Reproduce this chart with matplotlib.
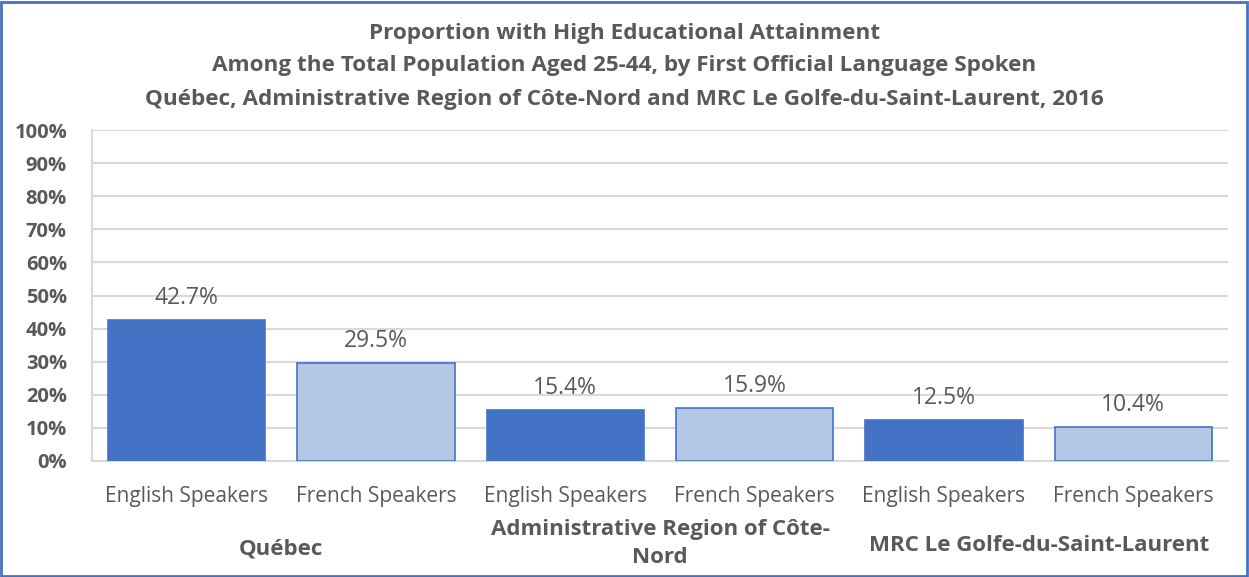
import matplotlib.pyplot as plt
from matplotlib.patches import Rectangle

# === 데이터 ===
regions = ["Québec", "Administrative Region of Côte-\nNord", "MRC Le Golfe-du-Saint-Laurent"]
languages = ["English Speakers", "French Speakers"]
values = [42.7, 29.5, 15.4, 15.9, 12.5, 10.4]
y_ticks = [0, 10, 20, 30, 40, 50, 60, 70, 80, 90, 100]

DARK = "#4472C4"
LIGHT = "#B4C7E7"
GREY = "#595959"

plt.rcParams["font.family"] = ["Open Sans", "DejaVu Sans"]

fig = plt.figure(figsize=(12.49, 5.77), dpi=100)
ax = fig.add_axes([92 / 1249, 1 - 461 / 577, (1228 - 92) / 1249, (461 - 130) / 577])

labels = [lang for _ in regions for lang in languages]
colors = [DARK if i % 2 == 0 else LIGHT for i in range(len(values))]
x = list(range(len(values)))
bars = ax.bar(x, values, width=0.83, color=colors, edgecolor=DARK, linewidth=1.2, zorder=3)

for b, v in zip(bars, values):
    ax.text(b.get_x() + b.get_width() / 2, v + 3.0, f"{v:.1f}%", ha="center", va="bottom",
            fontsize=16.5, color=GREY)

ax.set_xlim(-0.5, len(values) - 0.5)
ax.set_ylim(0, 100)
ax.set_yticks(y_ticks)
ax.set_yticklabels([f"{t}%" for t in y_ticks], fontsize=14.5, fontweight="bold", color=GREY)
ax.set_xticks(x)
ax.set_xticklabels(labels, fontsize=15, color=GREY)
ax.tick_params(axis="both", length=0)
ax.tick_params(axis="x", pad=18)
ax.tick_params(axis="y", pad=18)
ax.grid(axis="y", color="#D9D9D9", linewidth=1.5, zorder=0)
for s in ["top", "right"]:
    ax.spines[s].set_visible(False)
for s in ["left", "bottom"]:
    ax.spines[s].set_color("#D9D9D9")
    ax.spines[s].set_linewidth(1.5)

# 그룹 라벨
group_y = [-26.5, -25.0, -25.5]
for i, r in enumerate(regions):
    ax.text(2 * i + 0.5, group_y[i], r, ha="center", va="center", fontsize=16,
            fontweight="bold", color=GREY, linespacing=1.45, clip_on=False)

titles = [
    "Proportion with High Educational Attainment",
    "Among the Total Population Aged 25-44, by First Official Language Spoken",
    "Québec, Administrative Region of Côte-Nord and MRC Le Golfe-du-Saint-Laurent, 2016",
]
for t, ypx in zip(titles, [33, 66, 100]):
    fig.text(0.5, 1 - ypx / 577, t, ha="center", va="center", fontsize=16.2,
             fontweight="bold", color=GREY)

fig.patches.append(Rectangle((0.001, 0.002), 0.997, 0.995, transform=fig.transFigure,
                             fill=False, edgecolor=DARK, linewidth=2))

fig.savefig("out.png", dpi=100)
